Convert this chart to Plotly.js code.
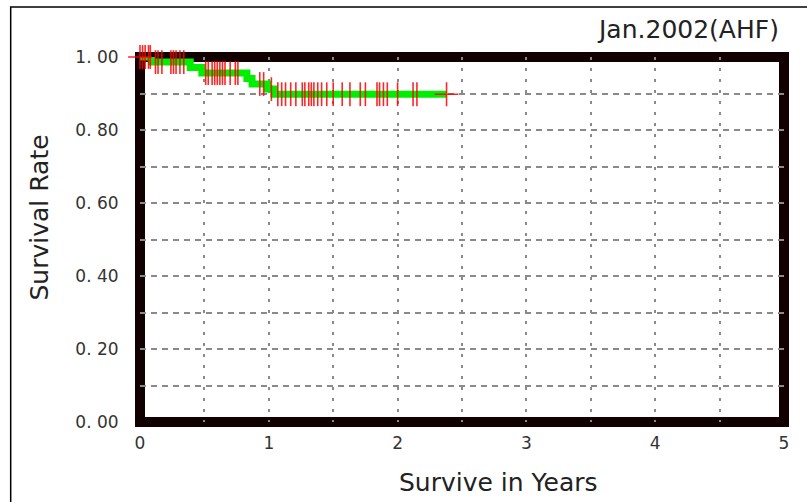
<!DOCTYPE html>
<html>
<head>
<meta charset="utf-8">
<script src="https://cdn.plot.ly/plotly-3.0.1.min.js"></script>
<style>html,body{margin:0;padding:0;background:#fff;}#chart{width:807px;height:502px;}</style>
</head>
<body>
<div id="chart"></div>
<script>
// Kaplan-Meier step curve (years, survival)
const stepTimes = [0, 0.09, 0.39, 0.48, 0.83, 0.87, 0.99, 1.04, 2.38];
const stepSurv  = [1.0, 0.986, 0.971, 0.956, 0.941, 0.926, 0.912, 0.898, 0.898];

// censored observations (red marks)
const censorTimes = [0.0, 0.02, 0.04, 0.066, 0.08,
  0.12, 0.14, 0.17, 0.24, 0.26, 0.28, 0.31, 0.34,
  0.51, 0.53, 0.56, 0.58, 0.60, 0.62, 0.64, 0.66, 0.70, 0.74, 0.76,
  0.93, 0.96, 1.02,
  1.07, 1.10, 1.13, 1.17, 1.21, 1.26, 1.28, 1.31, 1.33, 1.35, 1.38, 1.41, 1.45, 1.50,
  1.57, 1.63, 1.71, 1.75, 1.84, 1.86, 1.89, 1.92, 2.00, 2.12, 2.15, 2.38];
const censorSurv = [1.0, 1.0, 1.0, 1.0, 1.0,
  0.986, 0.986, 0.986, 0.986, 0.986, 0.986, 0.986, 0.986,
  0.956, 0.956, 0.956, 0.956, 0.956, 0.956, 0.956, 0.956, 0.956, 0.956, 0.956,
  0.926, 0.926, 0.912,
  0.898, 0.898, 0.898, 0.898, 0.898, 0.898, 0.898, 0.898, 0.898, 0.898, 0.898, 0.898, 0.898, 0.898,
  0.898, 0.898, 0.898, 0.898, 0.898, 0.898, 0.898, 0.898, 0.898, 0.898, 0.898, 0.898];

const xTickVals = [0, 1, 2, 3, 4, 5];
const xTickText = ['0', '1', '2', '3', '4', '5'];
const yTickVals = [0, 0.2, 0.4, 0.6, 0.8, 1.0];
const yTickText = ['0. 00', '0. 20', '0. 40', '0. 60', '0. 80', '1. 00'];

const titleText = 'Jan.2002(AHF)';
const xTitle = 'Survive in Years';
const yTitle = 'Survival Rate';

const censorSymbols = censorTimes.map((t, i) => (i === 0 || i === censorTimes.length - 1) ? 'cross-thin' : 'line-ns');

const traces = [
  {x: stepTimes, y: stepSurv, type: 'scatter', mode: 'lines',
   line: {shape: 'hv', color: '#00ee00', width: 7}, cliponaxis: false, hoverinfo: 'skip'},
  {x: censorTimes, y: censorSurv, type: 'scatter', mode: 'markers',
   marker: {symbol: censorSymbols, size: 17, line: {color: 'rgba(255,0,0,0.85)', width: 1.6}},
   cliponaxis: false, hoverinfo: 'skip'}
];

const tickFont = {family: 'DejaVu Sans', size: 17, color: '#333'};
const titleFont = {family: 'DejaVu Sans', size: 25, color: '#222'};

const layout = {
  width: 807, height: 502,
  margin: {l: 139.5, r: 22.5, t: 57, b: 80},
  paper_bgcolor: '#fff', plot_bgcolor: '#fff',
  showlegend: false,
  xaxis: {range: [0, 5], tickvals: xTickVals, ticktext: xTickText, tickfont: tickFont,
    ticks: 'outside', ticklen: 0, ticklabelstandoff: 6,
    showgrid: true, gridcolor: '#8a8a8a', gridwidth: 2, griddash: '3px,8px',
    minor: {dtick: 0.5, showgrid: true, gridcolor: '#8a8a8a', gridwidth: 2, griddash: '3px,8px'},
    zeroline: false, showline: false, fixedrange: true},
  yaxis: {range: [0, 1], tickvals: yTickVals, ticktext: yTickText, tickfont: tickFont,
    ticks: 'outside', ticklen: 0, ticklabelstandoff: 17,
    showgrid: true, gridcolor: '#8a8a8a', gridwidth: 2, griddash: '6px,5px',
    minor: {dtick: 0.1, showgrid: true, gridcolor: '#8a8a8a', gridwidth: 2, griddash: '6px,5px'},
    zeroline: false, showline: false, fixedrange: true},
  shapes: [
    {type: 'rect', xref: 'paper', yref: 'paper', x0: 0, x1: 1, y0: 0, y1: 1,
     line: {color: '#120000', width: 10}, layer: 'between'},
    {type: 'rect', xref: 'paper', yref: 'paper', x0: -0.2008, x1: 1.06, y0: -0.26, y1: 1.137,
     line: {color: '#000', width: 1.5}, fillcolor: 'rgba(0,0,0,0)'}
  ],
  annotations: [
    {text: xTitle, xref: 'paper', yref: 'paper', x: 0.556, y: -0.167,
     xanchor: 'center', yanchor: 'middle', showarrow: false, font: titleFont},
    {text: yTitle, xref: 'paper', yref: 'paper', x: -0.156, y: 0.559, textangle: -90,
     xanchor: 'center', yanchor: 'middle', showarrow: false, font: titleFont},
    {text: titleText, xref: 'paper', yref: 'paper', x: 0.996, y: 1.074,
     xanchor: 'right', yanchor: 'middle', showarrow: false,
     font: {family: 'DejaVu Sans', size: 25, color: '#222'}}
  ]
};

Plotly.newPlot('chart', traces, layout, {staticPlot: true, displayModeBar: false});
</script>
</body>
</html>
